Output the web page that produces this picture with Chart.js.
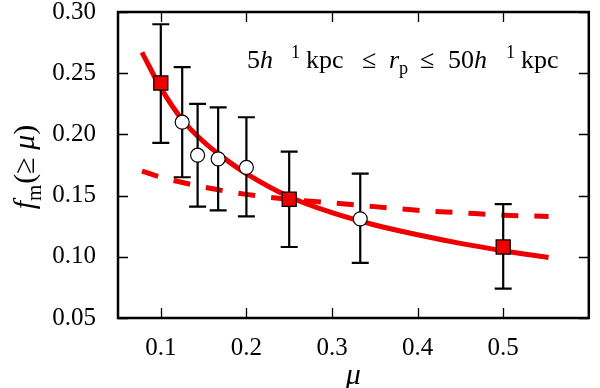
<!DOCTYPE html>
<html>
<head>
<meta charset="UTF-8">
<title>f_m vs mu</title>
<script src="https://cdn.jsdelivr.net/npm/chart.js"></script>
<style>
  html, body { margin: 0; padding: 0; background: #fff; }
  #wrap { width: 600px; height: 388px; }
</style>
</head>
<body>
<div id="wrap"><canvas id="fmChart" width="600" height="388"></canvas></div>
<script>
// measured points with error bars (red squares)
var squareMu = [0.1, 0.25, 0.5];
var squareF  = [0.242, 0.147, 0.108];
var squareLo = [0.193, 0.108, 0.074];
var squareHi = [0.290, 0.186, 0.143];

// open circles
var circleMu = [0.125, 0.143, 0.167, 0.2, 0.333];
var circleF  = [0.210, 0.183, 0.180, 0.173, 0.131];
var circleLo = [0.165, 0.141, 0.138, 0.133, 0.095];
var circleHi = [0.255, 0.225, 0.222, 0.214, 0.168];

// solid red curve
var solidMu = [0.078, 0.1, 0.125, 0.15, 0.175, 0.2, 0.25, 0.3, 0.35, 0.4, 0.45, 0.5, 0.553];
var solidF  = [0.267, 0.238, 0.212, 0.194, 0.180, 0.168, 0.149, 0.136, 0.126, 0.118, 0.111, 0.105, 0.0995];

// dashed red curve
var dashMu = [0.078, 0.1, 0.15, 0.2, 0.25, 0.3, 0.35, 0.4, 0.45, 0.5, 0.553];
var dashF  = [0.170, 0.165, 0.157, 0.151, 0.147, 0.144, 0.141, 0.138, 0.136, 0.134, 0.133];

var xTicks = [0.1, 0.2, 0.3, 0.4, 0.5];
var yTicks = [0.05, 0.10, 0.15, 0.20, 0.25, 0.30];

var SERIF = '"Liberation Serif", "DejaVu Serif", serif';

function pts(xs, ys) {
    return xs.map(function (x, i) { return { x: x, y: ys[i] }; });
}

function pieceFont(p, size) {
    var s = (p.sup || p.sub) ? size * 0.7 : size;
    return (p.it ? 'italic ' : '') + s + 'px ' + SERIF;
}
function richWidth(ctx, parts, size) {
    var w = 0;
    parts.forEach(function (p) {
        ctx.font = pieceFont(p, size);
        w += ctx.measureText(p.t).width + (p.gap || 0);
    });
    return w;
}
// pieces flow one after another unless a piece has its own x
function drawRich(ctx, parts, x, y, size) {
    parts.forEach(function (p) {
        if (p.x !== undefined) x = p.x;
        var dy = p.sup ? -size * 0.4 : (p.sub ? size * 0.22 : 0);
        ctx.font = pieceFont(p, size);
        ctx.fillText(p.t, x, y + dy);
        x += ctx.measureText(p.t).width + (p.gap || 0);
    });
}

function drawErrorBars(chart) {
    var ctx = chart.ctx, xs = chart.scales.x, ys = chart.scales.y;
    ctx.save();
    ctx.strokeStyle = '#000';
    ctx.lineWidth = 2.2;
    function bars(mu, lo, hi) {
        mu.forEach(function (m, i) {
            var px = xs.getPixelForValue(m);
            var y1 = ys.getPixelForValue(lo[i]), y2 = ys.getPixelForValue(hi[i]);
            ctx.beginPath();
            ctx.moveTo(px, y1); ctx.lineTo(px, y2);
            ctx.moveTo(px - 8.5, y1); ctx.lineTo(px + 8.5, y1);
            ctx.moveTo(px - 8.5, y2); ctx.lineTo(px + 8.5, y2);
            ctx.stroke();
        });
    }
    bars(squareMu, squareLo, squareHi);
    bars(circleMu, circleLo, circleHi);
    ctx.restore();
}

var decor = {
    id: 'decor',
    afterDatasetDraw: function (chart, args) {
        // error bars go above the curves, below the markers
        if (args.index === 2) drawErrorBars(chart);
    },
    afterDraw: function (chart) {
        var ctx = chart.ctx, a = chart.chartArea;
        var xs = chart.scales.x, ys = chart.scales.y;
        ctx.save();
        ctx.strokeStyle = '#000';
        ctx.lineWidth = 1.3;
        ctx.beginPath();
        // inward ticks on all four sides
        xTicks.forEach(function (v) {
            var px = Math.round(xs.getPixelForValue(v)) + 0.5;
            ctx.moveTo(px, a.bottom); ctx.lineTo(px, a.bottom - 10);
            ctx.moveTo(px, a.top); ctx.lineTo(px, a.top + 10);
        });
        yTicks.forEach(function (v) {
            var py = Math.round(ys.getPixelForValue(v)) + 0.5;
            ctx.moveTo(a.left, py); ctx.lineTo(a.left + 10, py);
            ctx.moveTo(a.right, py); ctx.lineTo(a.right - 10, py);
        });
        ctx.stroke();

        // frame
        ctx.lineWidth = 2.5;
        ctx.strokeRect(a.left, a.top, a.right - a.left, a.bottom - a.top);

        ctx.fillStyle = '#000';
        ctx.textBaseline = 'alphabetic';
        ctx.textAlign = 'left';

        // annotation (the minus of h^-1 is missing in the original too)
        var note = [
            { t: '5', x: 247 }, { t: 'h', it: true }, { t: '1', sup: true, x: 291 },
            { t: 'kpc', x: 306 }, { t: '\u2264', x: 362 }, { t: 'r', it: true, x: 389 },
            { t: 'p', sub: true }, { t: '\u2264', x: 420 }, { t: '50', x: 448 },
            { t: 'h', it: true }, { t: '1', sup: true, x: 506 }, { t: 'kpc', x: 521 }
        ];
        drawRich(ctx, note, 247, 68, 26);

        // x title
        ctx.font = 'italic 30px ' + SERIF;
        ctx.textAlign = 'center';
        ctx.fillText('\u03bc', (a.left + a.right) / 2, 384);

        // y title
        var yt = [
            { t: 'f', it: true }, { t: 'm', sub: true, gap: 1 },
            { t: '(\u2265 ' }, { t: '\u03bc', it: true }, { t: ')' }
        ];
        ctx.textAlign = 'left';
        var w = richWidth(ctx, yt, 30);
        ctx.translate(34, 167);
        ctx.rotate(-Math.PI / 2);
        drawRich(ctx, yt, -w / 2, 0, 30);
        ctx.restore();
    }
};

var ctx = document.getElementById('fmChart').getContext('2d');
var chart = new Chart(ctx, {
    type: 'scatter',
    data: {
        datasets: [
            {
                label: 'squares', data: pts(squareMu, squareF), order: 0,
                pointStyle: 'rect', pointRadius: 10, pointHoverRadius: 10,
                backgroundColor: '#ee0000', borderColor: '#000', borderWidth: 1.2
            },
            {
                label: 'circles', data: pts(circleMu, circleF), order: 1,
                pointStyle: 'circle', pointRadius: 7, pointHoverRadius: 7,
                backgroundColor: '#fff', borderColor: '#000', borderWidth: 1.2
            },
            {
                label: 'solid', data: pts(solidMu, solidF), order: 2,
                showLine: true, pointRadius: 0, borderColor: '#ee0000',
                borderWidth: 5, cubicInterpolationMode: 'monotone', fill: false
            },
            {
                label: 'dashed', data: pts(dashMu, dashF), order: 3,
                showLine: true, pointRadius: 0, borderColor: '#ee0000',
                borderWidth: 5, borderDash: [17, 16], cubicInterpolationMode: 'monotone', fill: false
            }
        ]
    },
    options: {
        responsive: false,
        animation: false,
        events: [],
        layout: { padding: { top: 12, right: 3, left: 0, bottom: 0 } },
        plugins: { legend: { display: false }, tooltip: { enabled: false } },
        scales: {
            x: {
                type: 'linear', min: 0.05, max: 0.6,
                afterBuildTicks: function (s) { s.ticks = xTicks.map(function (v) { return { value: v }; }); },
                afterFit: function (s) { s.height = 70; s.paddingLeft = 0; s.paddingRight = 0; },
                grid: { display: false },
                border: { display: false },
                ticks: {
                    color: '#000', padding: 7, maxRotation: 0, autoSkip: false,
                    font: { family: SERIF, size: 25 },
                    callback: function (v) { return v.toFixed(1); }
                }
            },
            y: {
                type: 'linear', min: 0.05, max: 0.30,
                afterBuildTicks: function (s) { s.ticks = yTicks.map(function (v) { return { value: v }; }); },
                afterFit: function (s) { s.width = 118; s.paddingTop = 0; s.paddingBottom = 0; },
                grid: { display: false },
                border: { display: false },
                ticks: {
                    color: '#000', padding: 14, autoSkip: false,
                    font: { family: SERIF, size: 25 },
                    callback: function (v) { return v.toFixed(2); }
                }
            }
        }
    },
    plugins: [decor]
});
</script>
</body>
</html>
